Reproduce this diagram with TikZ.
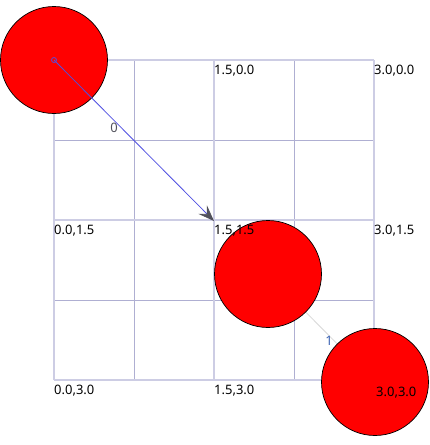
\documentclass[tikz,border=0pt]{standalone}
\usepackage{fontspec}
\setmainfont{Noto Sans}
\usetikzlibrary{arrows.meta}
\definecolor{gridthick}{RGB}{205,205,228}
\definecolor{gridthin}{RGB}{175,175,210}
\definecolor{arrowblue}{RGB}{80,80,225}
\definecolor{labelblue}{RGB}{60,100,180}
\definecolor{lightconn}{RGB}{215,215,215}
\definecolor{tipgray}{RGB}{80,80,90}
\tikzset{
  thickgrid/.style={draw=gridthick,line width=1.8pt},
  thingrid/.style={draw=gridthin,line width=0.8pt},
  ptlabel/.style={anchor=north west,inner sep=1pt,font=\fontsize{13}{15}\selectfont,text=black},
  ball/.style={circle,draw=black,line width=0.7pt,fill=red,minimum size=107pt,inner sep=0pt},
  edgelabel/.style={inner sep=0pt,font=\fontsize{13}{15}\selectfont},
}
\begin{document}
\begin{tikzpicture}[x=1pt,y=-1pt]
\useasboundingbox (0,0) rectangle (429,445);
% grid
\foreach \x in {134,294} \draw[thingrid] (\x,60) -- (\x,380);
\foreach \y in {140,300} \draw[thingrid] (54,\y) -- (374,\y);
\foreach \x in {54,214,374} \draw[thickgrid] (\x,60) -- (\x,380);
\foreach \y in {60,220,380} \draw[thickgrid] (54,\y) -- (374,\y);
% point labels
\node[ptlabel] (l1) at (213,64) {1.5,0.0};
\node[ptlabel] (l2) at (373,64) {3.0,0.0};
\node[ptlabel] (l3) at (53,224) {0.0,1.5};
\node[ptlabel] (l5) at (373,224) {3.0,1.5};
\node[ptlabel] (l6) at (53,384) {0.0,3.0};
\node[ptlabel] (l7) at (213,384) {1.5,3.0};
% positions
\coordinate (pa) at (54,60);
\coordinate (pb) at (214,221);
\coordinate (pc) at (268,274);
\coordinate (pd) at (375,382);
% connector 1 (behind balls)
\draw[lightconn,line width=0.8pt] (pc) -- (pd);
% balls
\node[ball] (c1) at (pa) {};
\node[ball] (c2) at (pc) {};
\node[ball] (c3) at (pd) {};
\node[ptlabel] (l4) at (213,224) {1.5,1.5};
\node[ptlabel] (l8) at (375,386) {3.0,3.0};
% connector 0
\draw[arrowblue,line width=0.8pt,-{Stealth[length=16pt,width=12pt,inset=6pt,color=tipgray]}] (c1.center) -- (pb);
\node[draw=arrowblue,circle,inner sep=0pt,minimum size=5pt,line width=0.8pt] (m1) at (c1.center) {};
\node[edgelabel,text=tipgray] (e0) at (114,128) {0};
\node[edgelabel,text=labelblue] (e1) at (329,341) {1};
\end{tikzpicture}
\end{document}
